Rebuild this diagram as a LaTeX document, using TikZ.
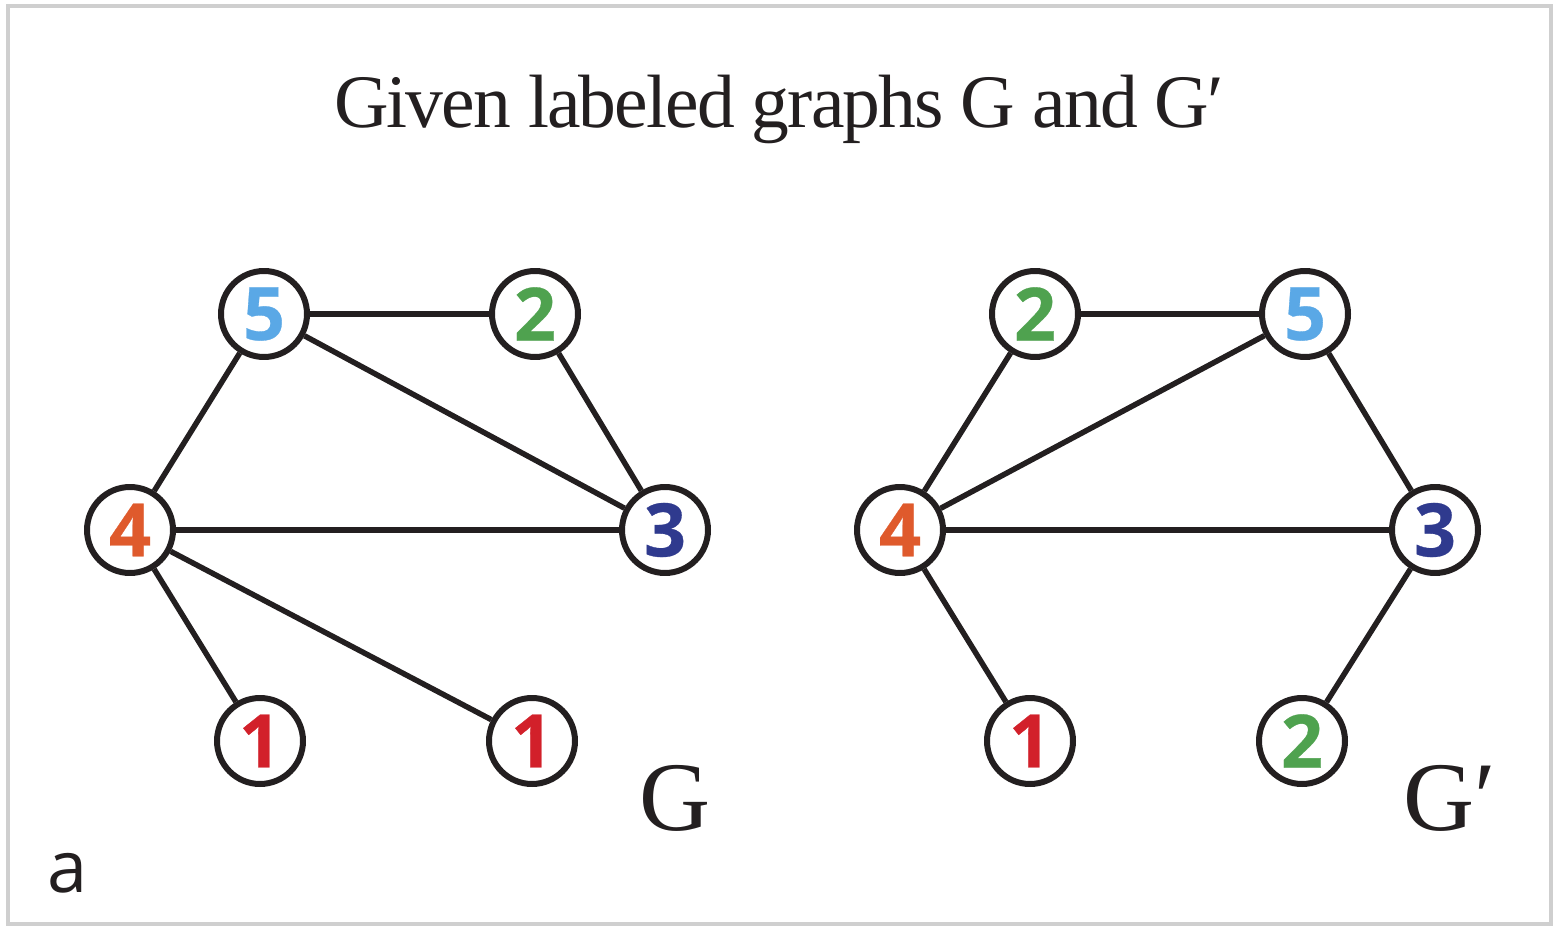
\documentclass[tikz,border=0pt]{standalone}
\usepackage{fontspec}
\setmainfont{Liberation Serif}
\setsansfont{Open Sans}
\newfontfamily\titlefont{Liberation Serif}[LetterSpace=-2.5]
\newfontfamily\digitfont{Open Sans}[BoldFeatures={FakeBold=0.4}]
\usetikzlibrary{positioning}
\definecolor{cblue}{HTML}{5AA8E6}
\definecolor{cgreen}{HTML}{4FA24F}
\definecolor{corange}{HTML}{DF5A2C}
\definecolor{cnavy}{HTML}{2F3A8E}
\definecolor{cred}{HTML}{D2202A}
\definecolor{cedge}{HTML}{231F20}
\definecolor{cframe}{HTML}{CFCFCF}
\tikzset{
  every picture/.style={x=0.02cm, y=-0.02cm},
  vert/.style={circle, draw=cedge, fill=white, line width=0.12cm, minimum size=1.72cm, inner sep=0pt,
    font=\digitfont\bfseries\fontsize{42}{42}\selectfont, text=#1},
  vert/.default=black,
  edge/.style={draw=cedge, line width=0.11cm},
  title/.style={font=\titlefont\fontsize{43}{43}\selectfont, text=cedge, anchor=base},
  gname/.style={font=\fontsize{56}{56}\selectfont, text=cedge, anchor=base},
}
\begin{document}
\begin{tikzpicture}
  \useasboundingbox (0,0) rectangle (1558,932);
  \draw[cframe, line width=0.08cm] (8,6) rectangle (1551,924);
  \node[title] (head) at (779,128) {Given labeled graphs G and G′};
  % graph G
  \node[vert=cblue] (g5) at (264,314) {5};
  \node[vert=cgreen] (g2) at (535,314) {2};
  \node[vert=corange] (g4) at (130,530) {4};
  \node[vert=cnavy] (g3) at (665,530) {3};
  \node[vert=cred] (g1a) at (260,741) {1};
  \node[vert=cred] (g1b) at (532,741) {1};
  \draw[edge] (g5) -- (g2);
  \draw[edge] (g5) -- (g4);
  \draw[edge] (g5) -- (g3);
  \draw[edge] (g2) -- (g3);
  \draw[edge] (g4) -- (g3);
  \draw[edge] (g4) -- (g1a);
  \draw[edge] (g4) -- (g1b);
  \node[gname] (lg) at (675,830) {G};
  % graph G'
  \node[vert=cgreen] (h2a) at (1035,314) {2};
  \node[vert=cblue] (h5) at (1305,314) {5};
  \node[vert=corange] (h4) at (900,530) {4};
  \node[vert=cnavy] (h3) at (1435,530) {3};
  \node[vert=cred] (h1) at (1030,741) {1};
  \node[vert=cgreen] (h2b) at (1302,741) {2};
  \draw[edge] (h2a) -- (h5);
  \draw[edge] (h2a) -- (h4);
  \draw[edge] (h5) -- (h4);
  \draw[edge] (h5) -- (h3);
  \draw[edge] (h4) -- (h3);
  \draw[edge] (h4) -- (h1);
  \draw[edge] (h3) -- (h2b);
  \node[gname] (lh) at (1450,830) {G′};
  \node[font=\sffamily\fontsize{41}{41}\selectfont, text=cedge, anchor=base] (panel) at (68,892) {a};
\end{tikzpicture}
\end{document}
